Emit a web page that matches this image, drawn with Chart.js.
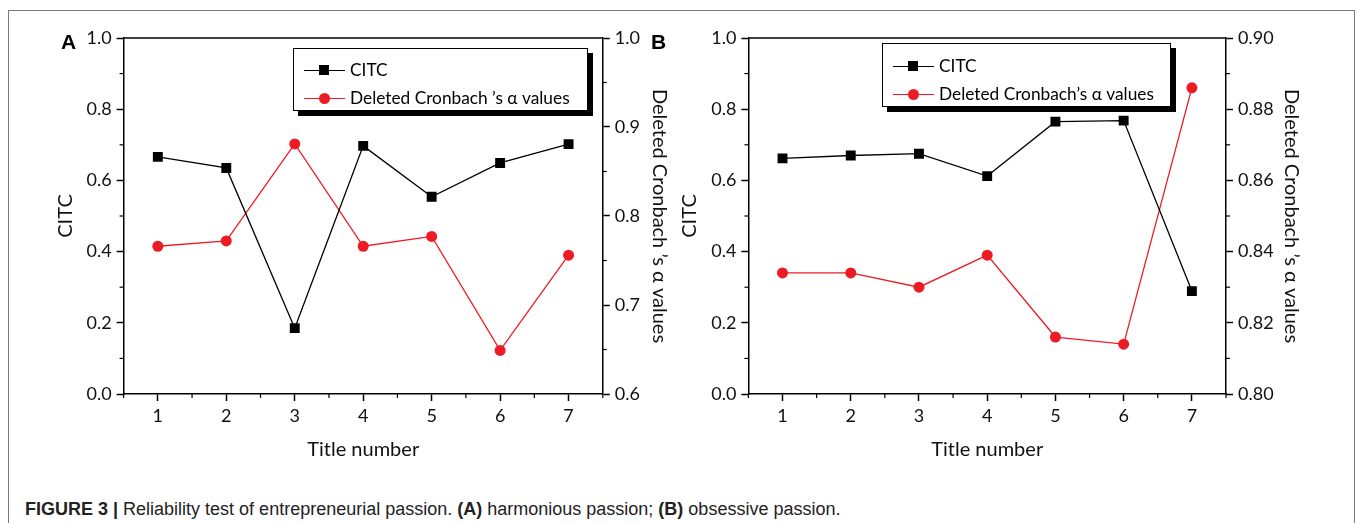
<!DOCTYPE html>
<html>
<head>
<meta charset="utf-8">
<script src="https://cdn.jsdelivr.net/npm/chart.js@4/dist/chart.umd.min.js"></script>
<style>
body { margin: 0; background: #fff; width: 1357px; height: 523px; overflow: hidden; position: relative; font-family: Lato, sans-serif; color: #000; }
.frame { position: absolute; left: 8px; top: 10px; width: 1345px; height: 600px; border: 1.5px solid #7a7a7a; }
.panel { position: absolute; top: 0; }
.tag { position: absolute; font: bold 21px 'Liberation Sans', Arial, sans-serif; }
.legend { position: absolute; background: #fff; border: 1px solid #000; box-shadow: 5px 5px 0 #000; box-sizing: border-box; }
.row { position: absolute; left: 10px; height: 24px; line-height: 24px; font-size: 17.3px; white-space: nowrap; }
.sym { display: inline-block; position: relative; width: 41px; height: 24px; vertical-align: top; margin-right: 5px; }
.sym::before { content: ''; position: absolute; left: 0; right: 0; top: 11.5px; height: 1.3px; }
.sym.black::before { background: #000; }
.sym.red::before { background: #ed1c24; }
.sq { position: absolute; left: 15px; top: 7px; width: 10px; height: 10px; background: #000; }
.dot { position: absolute; left: 14.5px; top: 6.5px; width: 11px; height: 11px; border-radius: 50%; background: #ed1c24; }
.cap { position: absolute; left: 25px; top: 500px; line-height: 18px; font: 18px 'Liberation Sans', Arial, sans-serif; color: #222; white-space: nowrap; }
</style>
</head>
<body>
<div class="frame"></div>

<div class="panel" style="left:0;width:680px;height:470px"><canvas id="chartA" width="680" height="470"></canvas></div>
<div class="panel" style="left:660px;width:697px;height:470px"><canvas id="chartB" width="697" height="470"></canvas></div>

<div class="tag" style="left:61px;top:30px">A</div>
<div class="tag" style="left:651px;top:30px">B</div>

<div class="legend" style="left:293px;top:48px;width:295px;height:63px">
  <div class="row" style="top:9px"><span class="sym black"><i class="sq"></i></span>CITC</div>
  <div class="row" style="top:37px"><span class="sym red"><i class="dot"></i></span>Deleted Cronbach ’s α values</div>
</div>
<div class="legend" style="left:882px;top:43px;width:289px;height:64px">
  <div class="row" style="top:10px"><span class="sym black"><i class="sq"></i></span>CITC</div>
  <div class="row" style="top:38px"><span class="sym red"><i class="dot"></i></span>Deleted Cronbach’s α values</div>
</div>

<div class="cap" style="line-height:18px"><b>FIGURE 3 |</b> Reliability test of entrepreneurial passion. <b>(A)</b> harmonious passion; <b>(B)</b> obsessive passion.</div>

<script>
// data
const titleNumbers = [1, 2, 3, 4, 5, 6, 7];
const citcA = [0.666, 0.635, 0.185, 0.697, 0.554, 0.649, 0.702];
const alphaA = [0.766, 0.772, 0.881, 0.766, 0.777, 0.649, 0.756];
const citcB = [0.662, 0.670, 0.675, 0.612, 0.765, 0.768, 0.289];
const alphaB = [0.834, 0.834, 0.830, 0.839, 0.816, 0.814, 0.886];
const citcTicks = [0, 0.2, 0.4, 0.6, 0.8, 1.0];
const alphaTicksA = [0.6, 0.7, 0.8, 0.9, 1.0];
const alphaTicksB = [0.80, 0.82, 0.84, 0.86, 0.88, 0.90];

const RED = '#ed1c24';
Chart.defaults.font.family = 'Lato, sans-serif';
Chart.defaults.color = '#000';

// top frame line + minor ticks (origin style)
const frameTicks = {
    id: 'frameTicks',
    afterDraw(chart, args, opts) {
        const { ctx, chartArea: a, scales } = chart;
        ctx.save();
        ctx.strokeStyle = '#000';
        ctx.lineWidth = 1.5;
        ctx.beginPath();
        ctx.moveTo(a.left, a.top);
        ctx.lineTo(a.right, a.top);
        ctx.stroke();
        ctx.lineWidth = 1.2;
        Object.keys(opts.steps).forEach(id => {
            const s = scales[id];
            const step = opts.steps[id];
            const majors = s.ticks.map(t => t.value);
            const n = Math.round((s.max - s.min) / step);
            for (let i = 0; i <= n; i++) {
                const v = s.min + i * step;
                if (majors.some(m => Math.abs(m - v) < step / 10)) continue;
                const p = s.getPixelForValue(v);
                ctx.beginPath();
                if (id === 'x') { ctx.moveTo(p, a.bottom); ctx.lineTo(p, a.bottom + 4); }
                else if (s.position === 'left') { ctx.moveTo(a.left, p); ctx.lineTo(a.left - 4, p); }
                else { ctx.moveTo(a.right, p); ctx.lineTo(a.right + 4, p); }
                ctx.stroke();
            }
        });
        ctx.restore();
    }
};

function makePanel(id, citc, alpha, alphaTicks, digits, minorRight, pad, leftW, rightW) {
    const axisBase = {
        border: { color: '#000', width: 1.5 },
        grid: { drawOnChartArea: false, tickLength: 7, tickColor: '#000', tickWidth: 1.5 },
        ticks: { font: { size: 18 }, padding: 5, color: '#111' },
        title: { display: true, font: { size: 20 }, padding: { top: 2, bottom: 2 }, color: '#111' }
    };
    new Chart(document.getElementById(id), {
        type: 'line',
        data: {
            labels: titleNumbers,
            datasets: [
                {
                    label: 'CITC',
                    data: citc,
                    yAxisID: 'y',
                    borderColor: '#000',
                    backgroundColor: '#000',
                    borderWidth: 1.3,
                    pointStyle: 'rect',
                    pointRadius: 7,
                    pointBorderWidth: 0,
                    tension: 0
                },
                {
                    label: 'Deleted Cronbach’s α values',
                    data: alpha,
                    yAxisID: 'y1',
                    borderColor: RED,
                    backgroundColor: RED,
                    borderWidth: 1.3,
                    pointStyle: 'circle',
                    pointRadius: 5.5,
                    pointBorderWidth: 0,
                    tension: 0
                }
            ]
        },
        options: {
            responsive: false,
            animation: false,
            layout: { padding: pad },
            plugins: {
                legend: { display: false },
                tooltip: { enabled: false },
                frameTicks: { steps: { x: 0.5, y: 0.1, y1: minorRight } }
            },
            scales: {
                x: {
                    ...axisBase,
                    type: 'linear',
                    min: 0.5,
                    max: 7.5,
                    afterBuildTicks: s => { s.ticks = titleNumbers.map(v => ({ value: v })); },
                    afterFit: s => { s.height = 70; },
                    ticks: { ...axisBase.ticks, padding: 4, callback: v => String(v) },
                    title: { ...axisBase.title, text: 'Title number' }
                },
                y: {
                    ...axisBase,
                    position: 'left',
                    min: 0,
                    max: 1,
                    afterBuildTicks: s => { s.ticks = citcTicks.map(v => ({ value: v })); },
                    afterFit: s => { s.width = leftW; },
                    ticks: { ...axisBase.ticks, callback: v => v.toFixed(1) },
                    title: { ...axisBase.title, text: 'CITC' }
                },
                y1: {
                    ...axisBase,
                    position: 'right',
                    min: alphaTicks[0],
                    max: alphaTicks[alphaTicks.length - 1],
                    afterBuildTicks: s => { s.ticks = alphaTicks.map(v => ({ value: v })); },
                    afterFit: s => { s.width = rightW; },
                    ticks: { ...axisBase.ticks, callback: v => v.toFixed(digits) },
                    title: { ...axisBase.title, text: 'Deleted Cronbach ’s α values' }
                }
            }
        },
        plugins: [frameTicks]
    });
}

makePanel('chartA', citcA, alphaA, alphaTicksA, 1, 0.05,
    { left: 52, right: 7, top: 38, bottom: 6 }, 71.6, 70.2);
makePanel('chartB', citcB, alphaB, alphaTicksB, 2, 0.01,
    { left: 15.8, right: 51.5, top: 38, bottom: 6 }, 72.6, 79.5);
</script>
</body>
</html>
